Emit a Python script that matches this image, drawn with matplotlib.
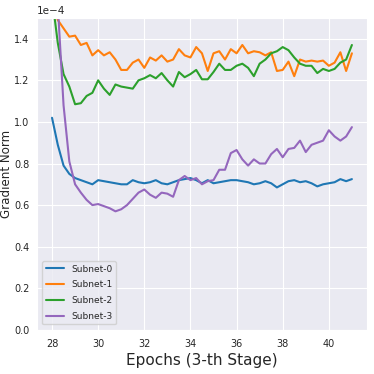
import numpy as np
import matplotlib
matplotlib.use('Agg')
import matplotlib.pyplot as plt
import seaborn as sns

# values, in units of 1e-4, one every 0.25 epoch
epoch_start, epoch_end = 28, 41
subnet_0 = [1.02, 0.89, 0.79, 0.75, 0.73, 0.72, 0.71, 0.70,
            0.72, 0.715, 0.71, 0.705, 0.70, 0.70, 0.72, 0.71,
            0.705, 0.71, 0.72, 0.705, 0.70, 0.71, 0.72, 0.725,
            0.73, 0.72, 0.705, 0.72, 0.705, 0.71, 0.715, 0.72,
            0.72, 0.715, 0.71, 0.70, 0.705, 0.715, 0.705, 0.685,
            0.70, 0.715, 0.72, 0.71, 0.715, 0.705, 0.69, 0.70,
            0.705, 0.71, 0.725, 0.715, 0.725]
subnet_1 = [1.60, 1.49, 1.45, 1.41, 1.415, 1.37, 1.38, 1.32,
            1.345, 1.32, 1.335, 1.30, 1.25, 1.25, 1.285, 1.30,
            1.26, 1.31, 1.295, 1.32, 1.29, 1.30, 1.35, 1.32,
            1.31, 1.36, 1.33, 1.245, 1.33, 1.34, 1.30, 1.35,
            1.33, 1.37, 1.33, 1.34, 1.335, 1.32, 1.335, 1.245,
            1.25, 1.29, 1.22, 1.30, 1.29, 1.295, 1.29, 1.295,
            1.27, 1.285, 1.335, 1.245, 1.33]
subnet_2 = [1.60, 1.38, 1.23, 1.17, 1.085, 1.09, 1.125, 1.14,
            1.20, 1.16, 1.13, 1.18, 1.17, 1.165, 1.16, 1.20,
            1.21, 1.225, 1.21, 1.235, 1.20, 1.17, 1.24, 1.215,
            1.23, 1.25, 1.205, 1.205, 1.24, 1.28, 1.25, 1.25,
            1.27, 1.28, 1.26, 1.22, 1.28, 1.30, 1.33, 1.34,
            1.36, 1.345, 1.31, 1.28, 1.27, 1.27, 1.235, 1.255,
            1.245, 1.255, 1.285, 1.30, 1.37]
subnet_3 = [2.00, 1.56, 1.08, 0.81, 0.70, 0.66, 0.625, 0.60,
            0.605, 0.595, 0.585, 0.57, 0.58, 0.60, 0.63, 0.66,
            0.675, 0.65, 0.635, 0.66, 0.655, 0.64, 0.72, 0.74,
            0.72, 0.73, 0.70, 0.715, 0.72, 0.77, 0.77, 0.85,
            0.865, 0.82, 0.79, 0.82, 0.80, 0.80, 0.845, 0.87,
            0.83, 0.87, 0.875, 0.91, 0.855, 0.89, 0.90, 0.91,
            0.96, 0.93, 0.91, 0.93, 0.975]
labels = ['Subnet-0', 'Subnet-1', 'Subnet-2', 'Subnet-3']
colors = ['#1f77b4', '#ff7f0e', '#2ca02c', '#9467bd']

sns.set_style('darkgrid')
narrow = ['Liberation Sans Narrow', 'DejaVu Sans']
plt.rcParams['font.family'] = narrow

epochs = np.linspace(epoch_start, epoch_end, len(subnet_0))

fig = plt.figure(figsize=(3.74, 3.74), dpi=100)
ax = fig.add_axes([0.099, 0.118, 0.882, 0.834])
for ys, lab, c in zip([subnet_0, subnet_1, subnet_2, subnet_3], labels, colors):
    ax.plot(epochs, np.array(ys) * 1e-4, color=c, linewidth=1.5, label=lab)

ax.set_ylim(0, 1.5e-4)
ax.set_xticks([28, 30, 32, 34, 36, 38, 40])
ax.ticklabel_format(axis='y', style='sci', scilimits=(0, 0))
ax.tick_params(axis='x', labelsize=7, pad=3)
ax.tick_params(axis='y', labelsize=7, pad=2)
ax.yaxis.get_offset_text().set_fontsize(7.5)
ax.set_xlabel('Epochs (3-th Stage)', fontsize=11, labelpad=3)
ax.set_ylabel('Gradient Norm', fontsize=10, family='DejaVu Sans')
ax.legend(loc='lower left', fontsize=6.5, frameon=True, labelspacing=0.75,
          handlelength=2.0, borderaxespad=0.6)

# fit the y label into the strip left of the (visible) tick labels
fig.canvas.draw()
r = fig.canvas.get_renderer()
lo, hi = ax.get_ylim()
shown = [t.label1 for t in ax.yaxis.get_major_ticks()
         if lo - 1e-12 <= t.get_loc() <= hi + 1e-12 and t.label1.get_text()]
tick_left = min(lb.get_window_extent(r).x0 for lb in shown)
room = tick_left - 2.0
lab = ax.yaxis.label
w = lab.get_window_extent(r).width
if w > room:
    lab.set_fontsize(10 * room / w)
ax_box = ax.get_window_extent(r)
ax.yaxis.set_label_coords((tick_left - 1.0 - ax_box.x0) / ax_box.width, 0.5)
fig.canvas.draw()
lab_box = lab.get_window_extent(r)
if lab_box.x1 > tick_left - 0.5:
    shift = lab_box.x1 - (tick_left - 1.0)
    ax.yaxis.set_label_coords((tick_left - 1.0 - shift - ax_box.x0) / ax_box.width, 0.5)

fig.savefig('out.png', dpi=100)
